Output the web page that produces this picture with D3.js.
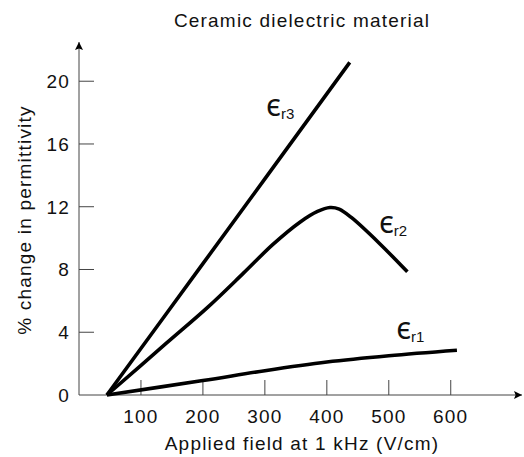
<!DOCTYPE html>
<html>
<head>
<meta charset="utf-8">
<script src="https://cdn.jsdelivr.net/npm/d3@7"></script>
<style>
  body { margin: 0; background: #fff; }
  text { font-family: "Liberation Sans", Arial, sans-serif; fill: #111; letter-spacing: 1.2px; }
</style>
</head>
<body>
<svg width="524" height="457"></svg>
<script>
// values (applied field in V/cm, % change)
var xTicks = [100, 200, 300, 400, 500, 600];
var yTicks = [0, 4, 8, 12, 16, 20];

var er1Field = [45, 200, 300, 400, 500, 610];
var er1Change = [0, 0.92, 1.55, 2.1, 2.5, 2.85];

var er2Field = [45, 141, 208, 265, 313, 356, 385, 405, 420, 440, 485, 530];
var er2Change = [0, 3.3, 5.6, 7.75, 9.6, 11.0, 11.7, 11.95, 11.85, 11.3, 9.66, 7.85];

var er3Field = [45, 195, 437];
var er3Change = [0, 8.1, 21.2];

var curveNames = ["r1", "r2", "r3"];
var labelField = [512, 484, 302];
var labelChange = [3.6, 10.3, 17.8];

var svg = d3.select("svg");

var x = d3.scaleLinear().domain([0, 715]).range([79, 522]);
var y = d3.scaleLinear().domain([0, 22.5]).range([395, 42]);

// arrow head for both axes
svg.append("defs").append("marker")
    .attr("id", "arrow")
    .attr("viewBox", "0 0 10 10")
    .attr("refX", 10).attr("refY", 5)
    .attr("markerWidth", 11).attr("markerHeight", 8)
    .attr("markerUnits", "userSpaceOnUse")
    .attr("orient", "auto")
  .append("path")
    .attr("d", "M0,0 L10,5 L0,10 L2,5 Z")
    .attr("fill", "#000");

// axes lines
svg.append("line")
    .attr("x1", x(0)).attr("y1", y(0))
    .attr("x2", x(715)).attr("y2", y(0))
    .attr("stroke", "#444").attr("stroke-width", 1)
    .attr("marker-end", "url(#arrow)");
svg.append("line")
    .attr("x1", x(0)).attr("y1", y(0))
    .attr("x2", x(0)).attr("y2", y(22.5))
    .attr("stroke", "#444").attr("stroke-width", 1)
    .attr("marker-end", "url(#arrow)");

// x ticks point up, inside the plot
svg.append("g").selectAll("line")
  .data(xTicks)
  .enter().append("line")
    .attr("x1", d => x(d)).attr("x2", d => x(d))
    .attr("y1", y(0)).attr("y2", y(0) - 15)
    .attr("stroke", "#444");
svg.append("g").selectAll("text")
  .data(xTicks)
  .enter().append("text")
    .attr("x", d => x(d))
    .attr("y", y(0) + 28)
    .attr("text-anchor", "middle")
    .attr("font-size", 19)
    .text(d => d);

// y ticks point right
svg.append("g").selectAll("line")
  .data(yTicks.slice(1))
  .enter().append("line")
    .attr("x1", x(0)).attr("x2", x(0) + 15)
    .attr("y1", d => y(d)).attr("y2", d => y(d))
    .attr("stroke", "#444");
svg.append("g").selectAll("text")
  .data(yTicks)
  .enter().append("text")
    .attr("x", x(0) - 9)
    .attr("y", d => y(d))
    .attr("dy", "0.36em")
    .attr("text-anchor", "end")
    .attr("font-size", 19)
    .text(d => d);

// titles
svg.append("text")
    .attr("x", 302).attr("y", 27)
    .attr("text-anchor", "middle")
    .attr("font-size", 19)
    .text("Ceramic dielectric material");
svg.append("text")
    .attr("x", 302).attr("y", 450)
    .attr("text-anchor", "middle")
    .attr("font-size", 19)
    .text("Applied field at 1 kHz (V/cm)");
svg.append("text")
    .attr("transform", "translate(31,220) rotate(-90)")
    .attr("text-anchor", "middle")
    .attr("font-size", 19)
    .text("% change in permittivity");

// curves
var series = [
  d3.zip(er1Field, er1Change),
  d3.zip(er2Field, er2Change),
  d3.zip(er3Field, er3Change)
];
var line = d3.line()
    .x(d => x(d[0]))
    .y(d => y(d[1]))
    .curve(d3.curveCatmullRom.alpha(0.5));

svg.append("g").selectAll("path")
  .data(series)
  .enter().append("path")
    .attr("d", line)
    .attr("fill", "none")
    .attr("stroke", "#000")
    .attr("stroke-width", 3.6)
    .attr("stroke-linecap", "butt");

// labels: epsilon with subscript
var lab = svg.append("g").selectAll("text")
  .data(curveNames)
  .enter().append("text")
    .attr("x", (d, i) => x(labelField[i]))
    .attr("y", (d, i) => y(labelChange[i]))
    .style("letter-spacing", "0px");
lab.append("tspan")
    .attr("font-family", "Noto Sans")
    .attr("font-size", 30)
    .text("\u03F5");
lab.append("tspan")
    .attr("font-size", 15)
    .attr("dy", 3)
    .text(d => d);
</script>
</body>
</html>
